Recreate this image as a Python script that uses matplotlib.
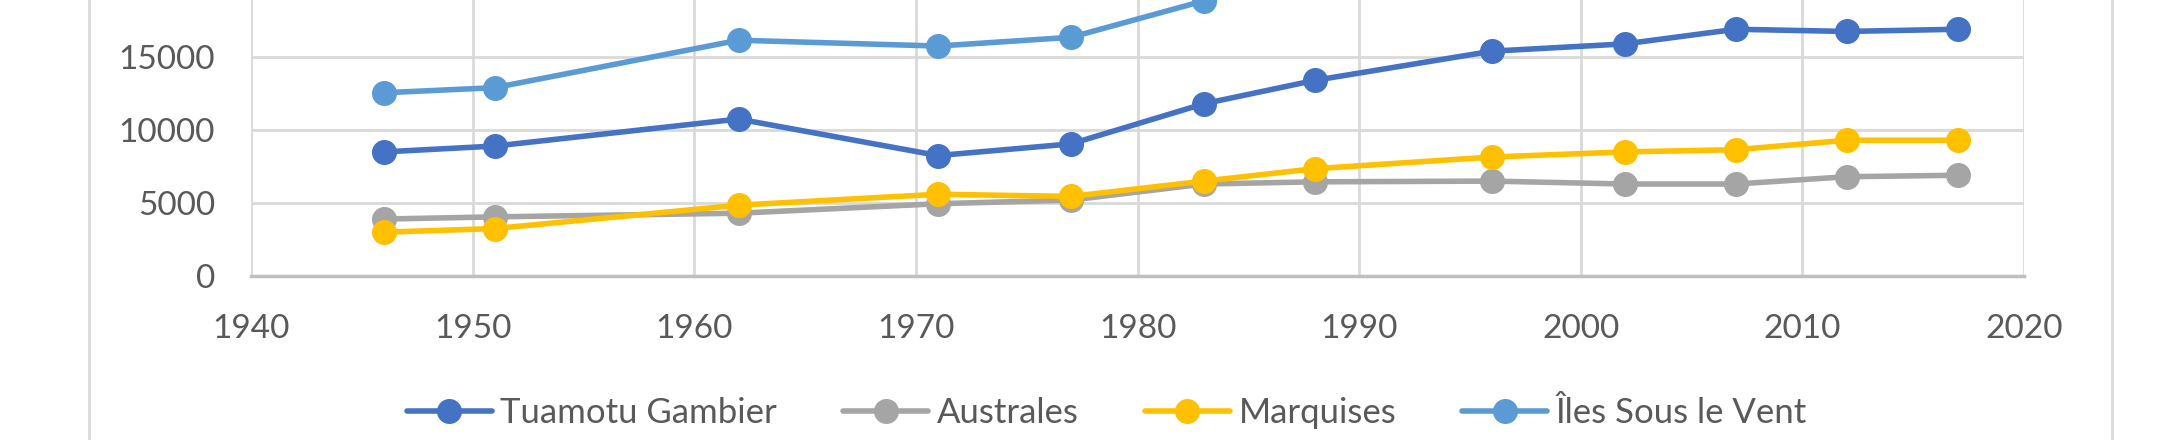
import matplotlib
matplotlib.use("Agg")
import matplotlib.pyplot as plt
from matplotlib.patches import Rectangle

plt.rcParams["font.family"] = ["Lato", "DejaVu Sans"]

# census years and population per subdivision
years = [1946, 1951, 1962, 1971, 1977, 1983, 1988, 1996, 2002, 2007, 2012, 2017]
tuamotu = [8500, 8900, 10750, 8250, 9050, 11800, 13400, 15400, 15900, 16900, 16750, 16900]
australes = [3900, 4050, 4300, 4950, 5200, 6300, 6450, 6500, 6300, 6300, 6800, 6900]
marquises = [3000, 3250, 4850, 5600, 5450, 6500, 7350, 8150, 8500, 8650, 9300, 9300]
# points after 1983 lie above the visible part of the chart
iles_sous_le_vent = [12550, 12900, 16150, 15750, 16350, 18850, 22200, 26800, 30200, 33200, 33400, 35400]

series_names = ["Tuamotu Gambier", "Australes", "Marquises", "Îles Sous le Vent"]
series_colors = ["#4472C4", "#A5A5A5", "#FFC000", "#5B9BD5"]
x_ticks = list(range(1940, 2021, 10))
y_ticks = [0, 5000, 10000, 15000]

W, H = 2184, 440
fig = plt.figure(figsize=(W / 100, H / 100), dpi=100)

# chart frame (only the side borders show in the crop)
fig.add_artist(Rectangle((89 / W, -0.2), (2112 - 89) / W, 1.4, transform=fig.transFigure,
                         fill=False, edgecolor="#D9D9D9", linewidth=2))

ax = fig.add_axes([251 / W, 164 / H, 1773 / W, 584 / H])

for vals, name, col in zip([tuamotu, australes, marquises, iles_sous_le_vent],
                           series_names, series_colors):
    ax.plot(years, vals, "-o", color=col, linewidth=4.0, markersize=17, label=name,
            solid_capstyle="round")

ax.set_xlim(1940, 2020)
ax.set_ylim(0, 40000)
ax.set_xticks(x_ticks)
ax.set_yticks(y_ticks)
ax.grid(True, color="#D9D9D9", linewidth=2)
ax.set_axisbelow(True)
for side in ["top", "right", "left"]:
    ax.spines[side].set_visible(False)
ax.spines["bottom"].set_color("#BFBFBF")
ax.spines["bottom"].set_linewidth(2.5)
ax.tick_params(length=0, labelsize=24, colors="#595959")
ax.tick_params(axis="x", pad=27)
ax.tick_params(axis="y", pad=26)

handles, labels = ax.get_legend_handles_labels()
fig.legend(handles, labels, loc="center", bbox_to_anchor=(1107 / W, 1 - 413 / H), ncol=4,
           frameon=False, fontsize=25, labelcolor="#595959", handlelength=2.45,
           handletextpad=0.25, columnspacing=1.9, borderaxespad=0)

fig.savefig("out.png", dpi=100)
